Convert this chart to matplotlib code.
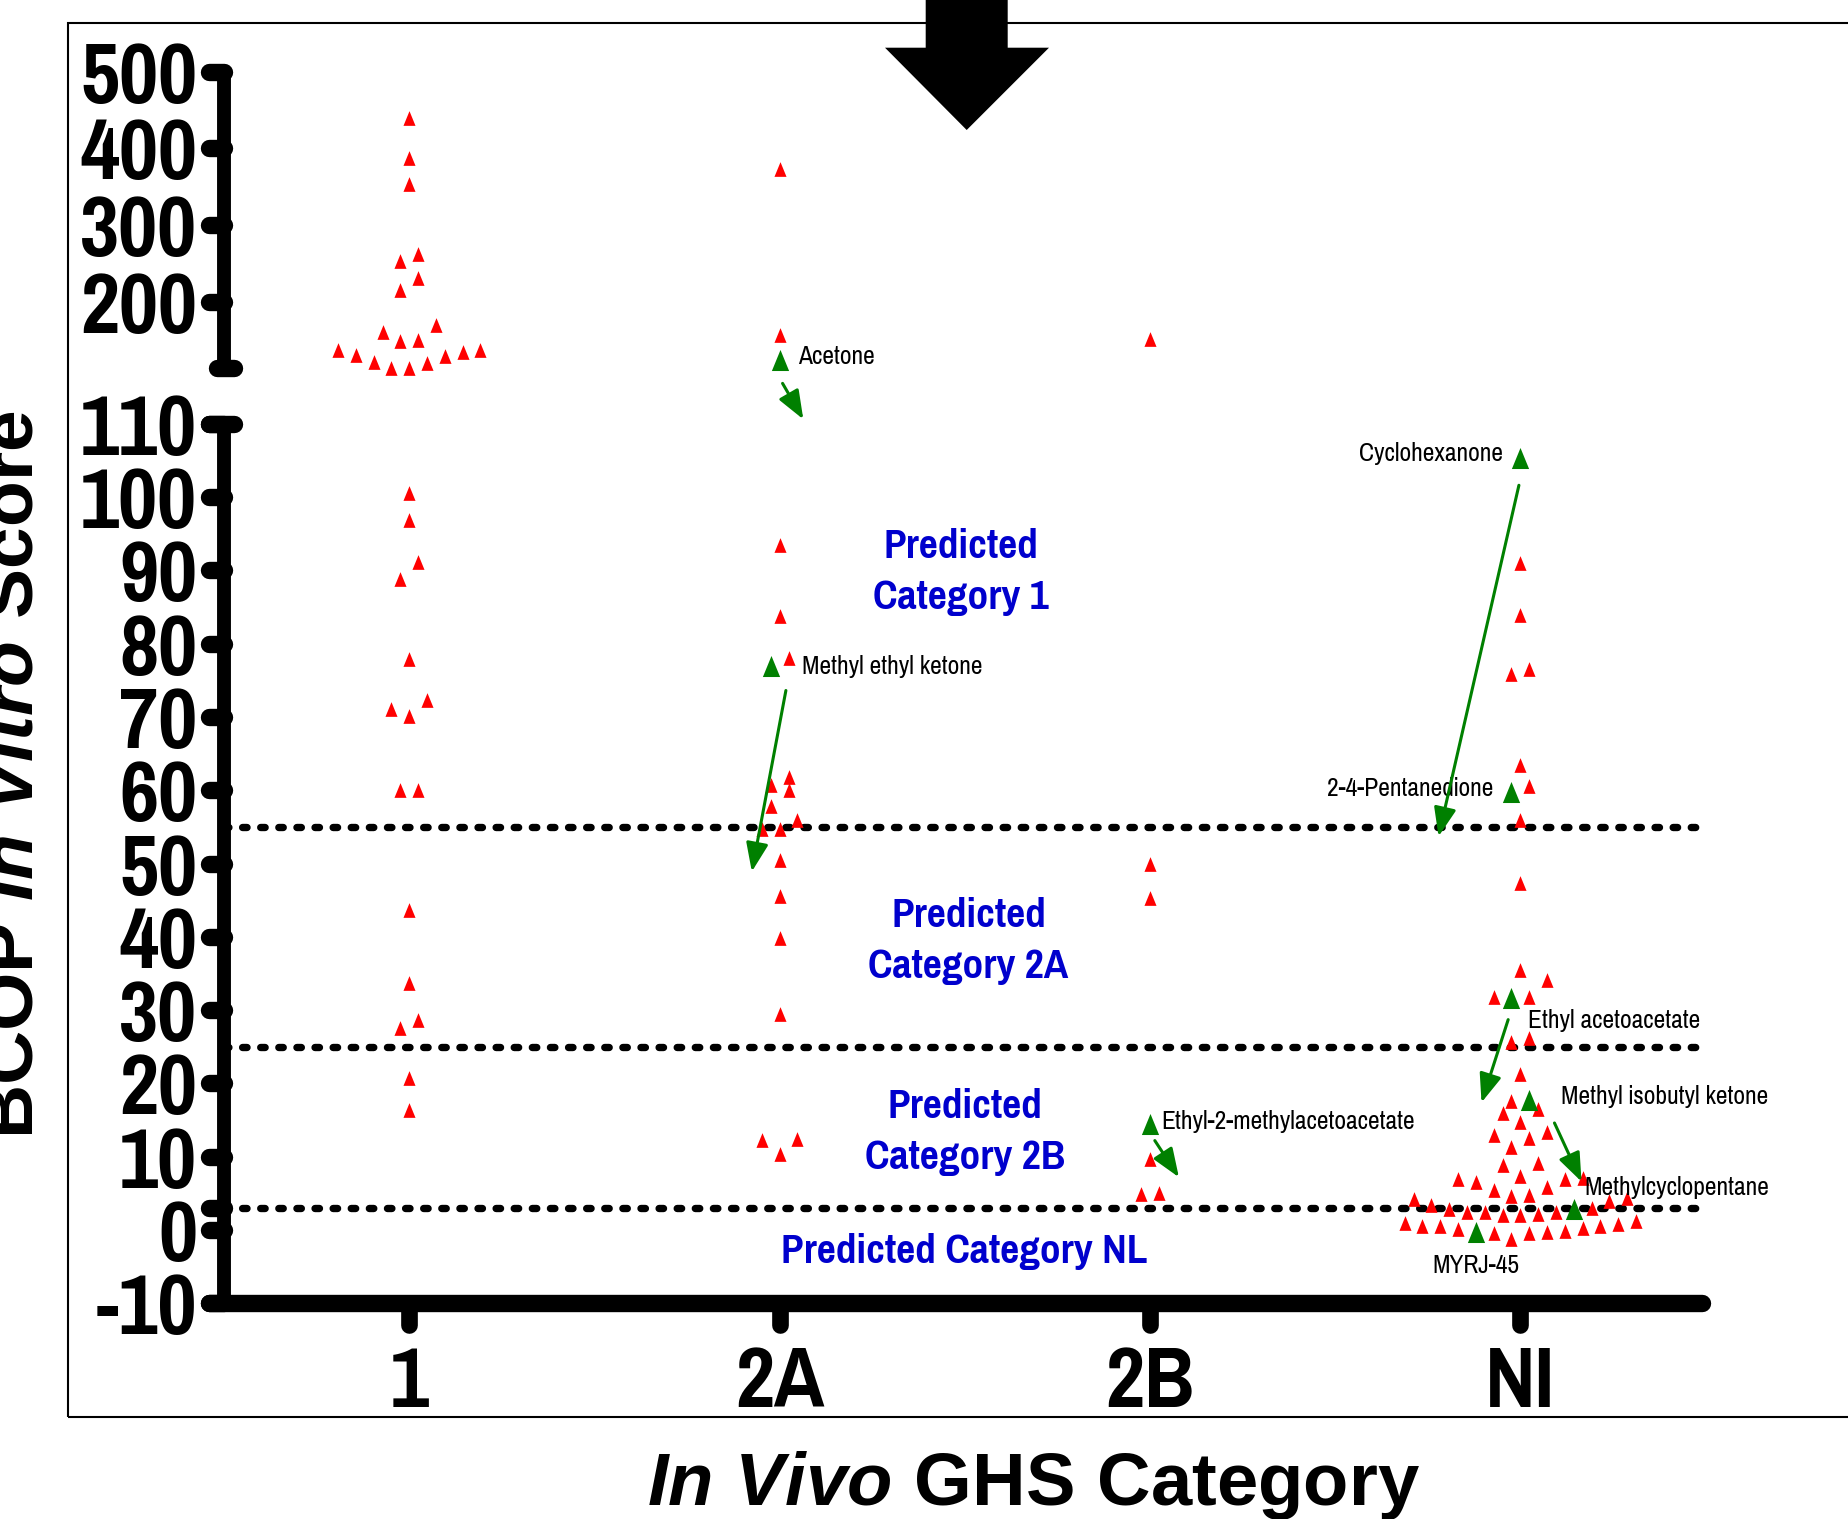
import numpy as np
import matplotlib.pyplot as plt
from matplotlib import font_manager
from matplotlib.patches import Polygon, Rectangle, ConnectionPatch

plt.rcParams['mathtext.fontset'] = 'custom'
plt.rcParams['mathtext.rm'] = 'Liberation Sans:bold'
plt.rcParams['mathtext.it'] = 'Liberation Sans:italic:bold'
plt.rcParams['mathtext.bf'] = 'Liberation Sans:bold'


def pick_font(candidates, min_weight):
    for name in candidates:
        for f in font_manager.fontManager.ttflist:
            w = f.weight if isinstance(f.weight, int) else 400
            if f.name == name and f.style == 'normal' and w >= min_weight:
                return name
    return 'Liberation Sans'


narrow_list = ['Liberation Sans Narrow', 'Pragati Narrow', 'Roboto Condensed',
               'PT Sans Narrow', 'Asap Condensed', 'Barlow Semi Condensed']
NARROW_BOLD = pick_font(narrow_list, 700)
NARROW = pick_font(narrow_list, 400)

# in vivo GHS category columns
categories = ['1', '2A', '2B', 'NI']

# BCOP in vitro scores of the red points
scores_cat1 = [439, 388, 353, 262, 253, 231, 215, 170, 160, 150, 149,
               137, 137, 134, 131, 129, 122, 120, 114, 114,
               100.6, 96.9, 91.1, 88.8, 77.9, 72.3, 71.1, 70.1, 60.0, 60.0,
               43.7, 33.7, 28.7, 27.5, 20.7, 16.4]
scores_cat2A = [373, 157, 93.5, 83.7, 78.1, 61.8, 60.7, 60.0, 57.9, 55.9,
                54.7, 54.7, 50.5, 45.6, 39.9, 29.5, 12.4, 12.3, 10.4]
scores_cat2B = [151, 50.0, 45.3, 9.7, 5.0, 4.9]
scores_catNI = [91.0, 83.9, 76.5, 75.8, 63.4, 60.6, 56.0, 47.4, 35.5, 34.1,
                31.8, 31.8, 26.2, 25.6, 21.3, 17.6, 16.5, 16.0, 14.8, 13.4,
                12.9, 12.5, 11.3, 9.1, 8.8, 7.4, 7.1, 7.0, 6.9, 6.6, 5.9,
                5.4, 4.8, 4.7, 4.4, 4.2, 4.0, 3.4, 3.0, 2.9, 2.5, 2.5, 2.5,
                2.2, 2.1, 2.1, 1.2, 1.0, 0.8, 0.6, 0.6, 0.5, 0.3, 0.1, -0.2,
                -0.3, -0.4, -0.4, -1.2]
red_scores = [scores_cat1, scores_cat2A, scores_cat2B, scores_catNI]

# highlighted chemicals (green)
hl_names = ['Acetone', 'Methyl ethyl ketone', 'Ethyl-2-methylacetoacetate',
            'Cyclohexanone', '2-4-Pentanedione', 'Ethyl acetoacetate',
            'Methyl isobutyl ketone', 'Methylcyclopentane', 'MYRJ-45']
hl_cats = ['2A', '2A', '2B', 'NI', 'NI', 'NI', 'NI', 'NI', 'NI']
hl_scores = [124, 76.9, 14.5, 105.3, 59.7, 31.7, 17.7, 2.8, -0.25]

cutoffs = [55, 25, 3]
region_labels = ['Predicted\nCategory 1', 'Predicted\nCategory 2A',
                 'Predicted\nCategory 2B', 'Predicted Category NL']
upper_ticks = [200, 300, 400, 500]
lower_ticks = [-10, 0, 10, 20, 30, 40, 50, 60, 70, 80, 90, 100, 110]

BREAK = 113  # values above this go on the top segment
W, H = 1848, 1519
RED, GREEN, BLUE, K = '#FF0000', '#008000', '#0000CD', 'black'
TRI = [(0, 1), (-0.82, -1), (0.82, -1)]


def fx(px):
    return px / W


def fy(py):
    return 1 - py / H


fig = plt.figure(figsize=(W / 100, H / 100), dpi=100)
x_left, x_right = 224.0, 1705.6
ax_low = fig.add_axes([fx(x_left), fy(1303.3), (x_right - x_left) / W, (1303.3 - 423.7) / H])
ax_up = fig.add_axes([fx(x_left), fy(368.5), (x_right - x_left) / W, (368.5 - 71.7) / H])
for ax in (ax_low, ax_up):
    ax.set_xlim(0.5, 4.5)
    for sp in ax.spines.values():
        sp.set_visible(False)
    ax.patch.set_alpha(0)
ax_low.set_ylim(-10, 110)
ax_up.set_ylim(BREAK, 500)


def swarm(values, ax, row_px=18.0, step_px=8.9):
    # GraphPad-like column scatter: rows of close values, spread symmetrically
    values = np.asarray(values, float)
    px_y = ax.bbox.height / (ax.get_ylim()[1] - ax.get_ylim()[0])
    step = step_px / (ax.bbox.width / 4.0)
    order = np.argsort(values, kind='stable')
    offs = np.zeros(len(values))
    i = 0
    while i < len(order):
        j = i
        while j < len(order) and (values[order[j]] - values[order[i]]) * px_y < row_px:
            j += 1
        n = j - i
        if n % 2:
            slots = [0] + [s for k in range(1, n // 2 + 1) for s in (-2 * k, 2 * k)]
        else:
            slots = [s for k in range(n // 2) for s in (-(2 * k + 1), 2 * k + 1)]
        for idx, s in zip(order[i:j], slots):
            offs[idx] = s * step
        i = j
    return offs


# reference lines
for c in cutoffs:
    ax_low.plot([0.5, 4.477], [c, c], color=K, lw=5.3, linestyle=(0, (0.6, 1.86)),
                dash_capstyle='round', zorder=1)

# points
for ci, cat in enumerate(categories):
    vals = list(red_scores[ci])
    green = [False] * len(vals)
    for cat_h, s in zip(hl_cats, hl_scores):
        if cat_h == cat:
            vals.append(s)
            green.append(True)
    vals = np.array(vals)
    green = np.array(green)
    for ax, mask in ((ax_up, vals > BREAK), (ax_low, vals <= BREAK)):
        v = vals[mask]
        g = green[mask]
        if len(v) == 0:
            continue
        x = ci + 1 + swarm(v, ax)
        ax.scatter(x[~g], v[~g], marker=TRI, s=112, color=RED, linewidths=0,
                   zorder=3, clip_on=False)
        ax.scatter(x[g], v[g], marker=TRI, s=230, color=GREEN, linewidths=0,
                   zorder=4, clip_on=False)

# axes lines with rounded ticks
ax_low.plot([0.5, 0.5], [-10, 110], color=K, lw=10, solid_capstyle='butt', clip_on=False)
ax_low.hlines(lower_ticks + [3], 0.46, 0.5, color=K, lw=12.5, capstyle='round', clip_on=False)
ax_low.plot([0.46, 0.528], [110, 110], color=K, lw=12.5, solid_capstyle='round', clip_on=False)
ax_low.plot([0.46, 4.49], [-10, -10], color=K, lw=12.5, solid_capstyle='round', clip_on=False)
ax_low.vlines([1, 2, 3, 4], -12.96, -10, color=K, lw=12, capstyle='round', clip_on=False)
ax_up.plot([0.5, 0.5], [BREAK, 500], color=K, lw=10, solid_capstyle='butt', clip_on=False)
ax_up.hlines(upper_ticks, 0.46, 0.5, color=K, lw=12.5, capstyle='round', clip_on=False)
ax_up.plot([0.482, 0.528], [BREAK, BREAK], color=K, lw=12.5, solid_capstyle='round', clip_on=False)

tick_font = dict(family=NARROW_BOLD, weight='bold', size=67)
ax_low.set_yticks(lower_ticks + [3], [str(t) for t in lower_ticks] + [''], **tick_font)
ax_up.set_yticks(upper_ticks, [str(t) for t in upper_ticks], **tick_font)
ax_low.set_xticks([1, 2, 3, 4], categories, **tick_font)
ax_low.tick_params(axis='y', length=0, pad=19.4)
ax_up.tick_params(axis='y', length=0, pad=19.4)
ax_low.tick_params(axis='x', length=0, pad=30)
ax_up.tick_params(axis='x', length=0, labelbottom=False)

# predicted-region captions
for txt, y, x in zip(region_labels, [89.8, 39.4, 13.4, -3.0], [2.49, 2.51, 2.50, 2.50]):
    ax_low.text(x, y, txt, ha='center', va='center', color=BLUE, family=NARROW_BOLD,
                weight='bold', size=32.5, linespacing=1.45, multialignment='center')

# chemical labels and arrows
label_font = dict(family=NARROW, size=20, color=K, va='center')
label_pos = {
    'Acetone': (ax_up, 2.050, 128.3, 'left'),
    'Methyl ethyl ketone': (ax_low, 2.060, 76.9, 'left'),
    'Ethyl-2-methylacetoacetate': (ax_low, 3.030, 14.8, 'left'),
    'Cyclohexanone': (ax_low, 3.952, 105.9, 'right'),
    '2-4-Pentanedione': (ax_low, 3.928, 60.2, 'right'),
    'Ethyl acetoacetate': (ax_low, 4.021, 28.6, 'left'),
    'Methyl isobutyl ketone': (ax_low, 4.110, 18.2, 'left'),
    'Methylcyclopentane': (ax_low, 4.172, 5.8, 'left'),
    'MYRJ-45': (ax_low, 3.879, -4.8, 'center'),
}
for name in hl_names:
    ax, x, y, ha = label_pos[name]
    ax.text(x, y, name, ha=ha, **label_font, zorder=5)

arrow_style = '-|>,head_length=1.75,head_width=0.68'
arrows = {
    'Acetone': ((2.008, 93.6, ax_up), (2.064, 110.6, ax_low)),
    'Methyl ethyl ketone': ((2.017, 73.6, ax_low), (1.925, 48.9, ax_low)),
    'Ethyl-2-methylacetoacetate': ((3.013, 12.2, ax_low), (3.078, 7.2, ax_low)),
    'Cyclohexanone': ((3.996, 101.6, ax_low), (3.779, 53.7, ax_low)),
    'Ethyl acetoacetate': ((3.967, 28.7, ax_low), (3.895, 17.4, ax_low)),
    'Methyl isobutyl ketone': ((4.092, 14.6, ax_low), (4.165, 6.6, ax_low)),
}
for (xa, ya, axa), (xb, yb, axb) in arrows.values():
    con = ConnectionPatch(xyA=(xa, ya), coordsA=axa.transData,
                          xyB=(xb, yb), coordsB=axb.transData,
                          arrowstyle=arrow_style, mutation_scale=10,
                          color=GREEN, lw=2.2, shrinkA=0, shrinkB=0, zorder=6)
    fig.add_artist(con)

# outer frame and the big arrow on top
fig.add_artist(Rectangle((fx(68), fy(1417)), 1.05, (1417 - 22.7) / H,
                         transform=fig.transFigure, fill=False, lw=1.5,
                         edgecolor=K, clip_on=False))
arrow_px = [(925.7, -5), (1007.7, -5), (1007.7, 47.7), (1049, 47.7),
            (966.7, 130), (885, 47.7), (925.7, 47.7)]
fig.add_artist(Polygon([(fx(a), fy(b)) for a, b in arrow_px], closed=True,
                       transform=fig.transFigure, facecolor=K, edgecolor='none'))

# axis titles
fig.text(fx(32.5), fy(775), r'$\mathrm{BCOP}\ \mathit{In\ Vitro}\ \mathrm{Score}$',
         rotation=90, rotation_mode='anchor', ha='center', va='baseline', size=54)
fig.text(fx(1034), fy(1505), r'$\mathit{In\ Vivo}\ \mathrm{GHS\ Category}$',
         ha='center', va='baseline', size=53.5)

fig.savefig('out.png', dpi=100)
